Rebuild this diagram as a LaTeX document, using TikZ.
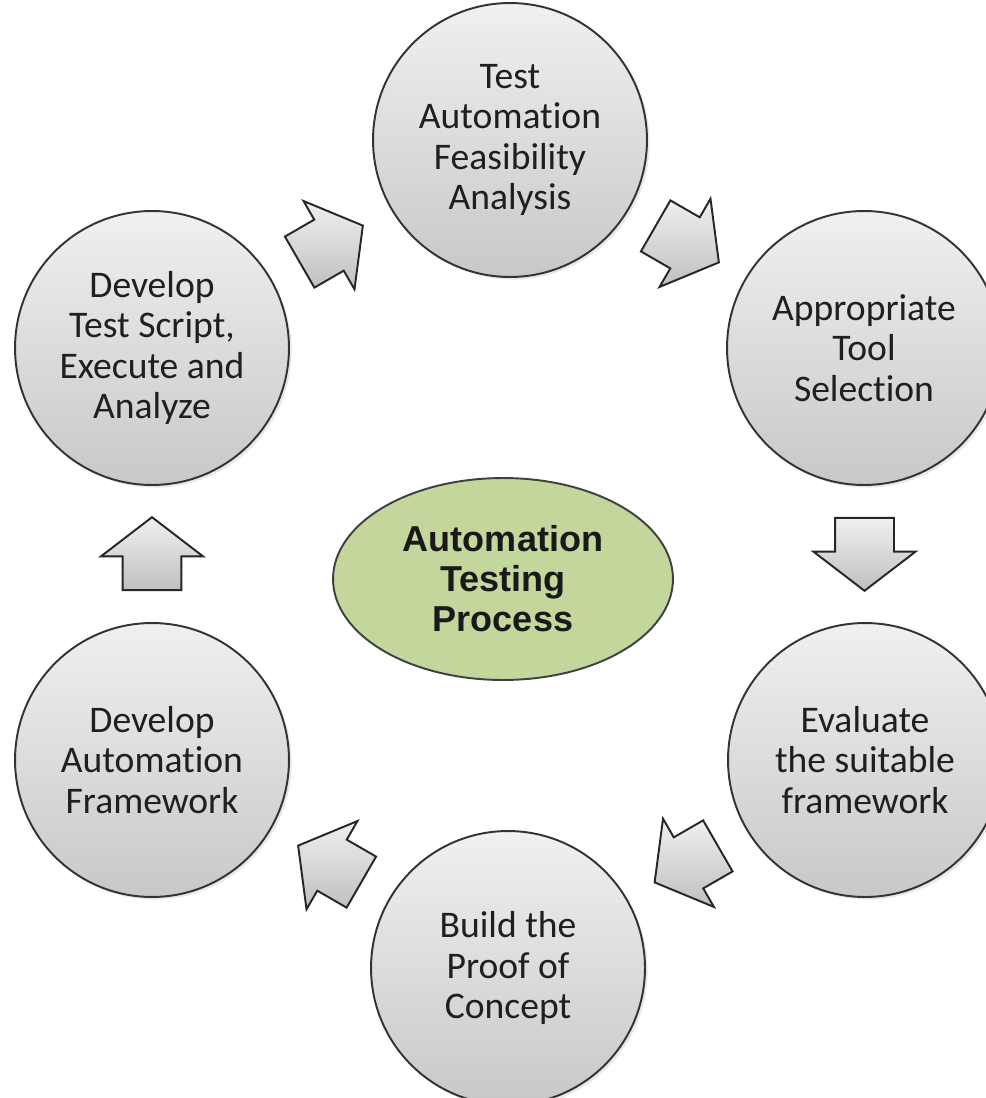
\documentclass[tikz,border=0pt]{standalone}
\usepackage{fontspec}
\newfontfamily\calib[Ligatures={NoCommon,NoContextual,NoRequired},RawFeature=-liga]{Carlito}
\newfontfamily\arialf{Liberation Sans}
\usetikzlibrary{shapes.geometric,shapes.arrows,shadows,calc}
\definecolor{coregreen}{RGB}{195,214,155}
\definecolor{circtop}{RGB}{240,240,240}
\definecolor{circbot}{RGB}{200,200,200}
\begin{document}
\begin{tikzpicture}[x=0.02cm,y=-0.02cm,
  stepcircle/.style={circle, draw=black!80, line width=1.1pt, minimum size=5.48cm,
    inner sep=0pt, top color=circtop, bottom color=circbot, align=center,
    text=black!88, font=\calib\fontsize{21.4pt}{22.9pt}\selectfont,
    drop shadow={opacity=0.18, shadow xshift=1.5pt, shadow yshift=-1.5pt}},
  blockarrow/.style={single arrow, draw=black!85, line width=1.1pt,
    minimum height=1.46cm, inner xsep=0pt, inner ysep=0.57cm,
    single arrow head extend=0.43cm, single arrow tip angle=105,
    top color=black!6, bottom color=black!25},
  corestyle/.style={ellipse, draw=black!75, line width=1.1pt, fill=coregreen,
    minimum width=6.8cm, minimum height=4.04cm, inner sep=0pt, align=center,
    font=\arialf\bfseries\fontsize{20.5pt}{22.8pt}\selectfont, text=black!90}]
\useasboundingbox (0,0) rectangle (986,1098);
\clip (0,0) rectangle (986,1098);
\fill[white] (0,0) rectangle (986,1098);

\node[stepcircle] (s1) at (510,140) {Test\\Automat\kern0pt ion\\Feasibility\\Analysis};
\node[stepcircle] (s2) at (864,348) {Appropriate\\Tool\\Selection};
\node[stepcircle] (s3) at (865,760) {Evaluate\\the suitable\\framework};
\node[stepcircle] (s4) at (508,968) {Build the\\Proof of\\Concept};
\node[stepcircle] (s5) at (152,760) {Develop\\Automat\kern0pt ion\\Framework};
\node[stepcircle] (s6) at (152,348) {Develop\\Test Script,\\Execute and\\Analyze};

\node[corestyle] (core) at (503,579) {Automation\\Testing\\Process};

\node[blockarrow, rotate=30, xshift=-0.22cm]   (a1) at ($(s6)!0.5!(s1)$) {};
\node[blockarrow, rotate=-30, xshift=-0.22cm]  (a2) at ($(s1)!0.5!(s2)$) {};
\node[blockarrow, rotate=-90, xshift=-0.22cm]  (a3) at ($(s2)!0.5!(s3)$) {};
\node[blockarrow, rotate=-150, xshift=-0.22cm] (a4) at ($(s3)!0.5!(s4)$) {};
\node[blockarrow, rotate=150, xshift=-0.22cm]  (a5) at ($(s4)!0.5!(s5)$) {};
\node[blockarrow, rotate=90, xshift=-0.22cm]   (a6) at ($(s5)!0.5!(s6)$) {};
\end{tikzpicture}
\end{document}
